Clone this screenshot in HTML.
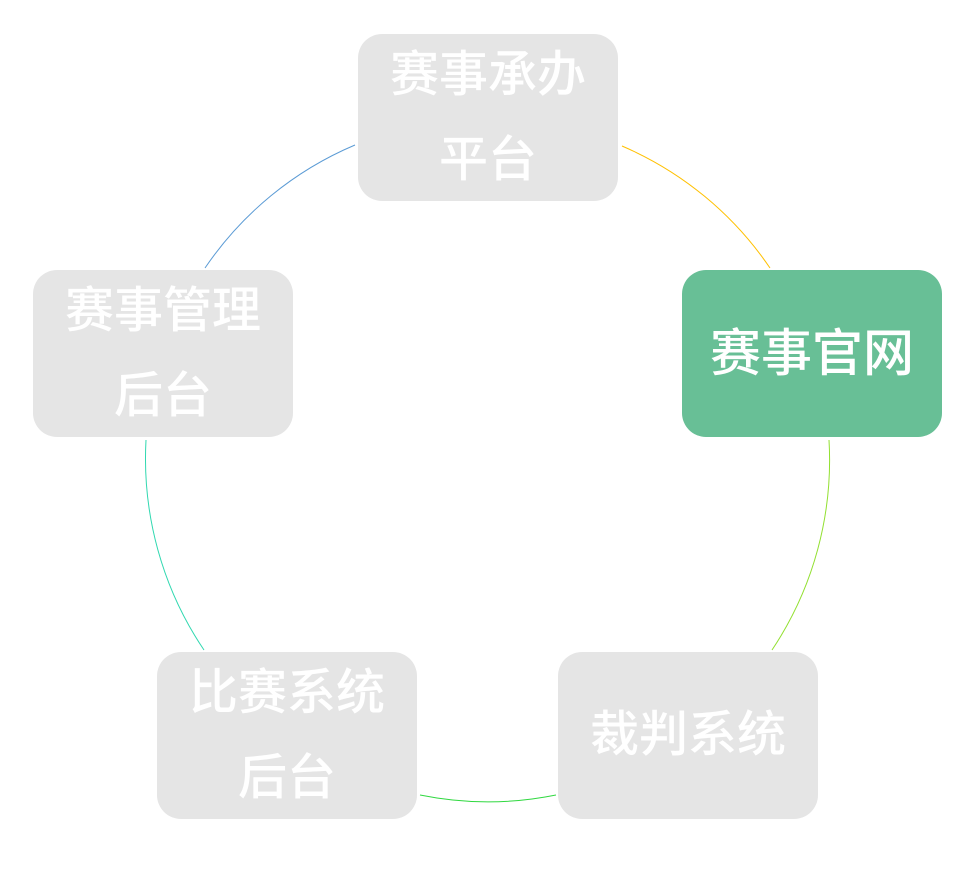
<!DOCTYPE html>
<html><head><meta charset="utf-8"><style>
body{margin:0;width:976px;height:873px;background:#fff;position:relative;overflow:hidden;font-family:"Liberation Sans","Noto Sans CJK SC",sans-serif}
.b{position:absolute;width:260px;height:167px;border-radius:24px;background:#e5e5e5;color:#fff;font-weight:500;font-size:49px;display:flex;align-items:center;justify-content:center;text-align:center;line-height:85px}
svg{position:absolute;left:0;top:0}
</style></head><body>
<svg width="976" height="873" fill="none" stroke-width="1">
<path d="M205 268 A342 342 0 0 1 355 145" stroke="#5b9bd5"/>
<path d="M622 146 A342 342 0 0 1 770 268" stroke="#ffc000"/>
<path d="M829 440 A342 342 0 0 1 772 650" stroke="#92e030"/>
<path d="M556 795 A342 342 0 0 1 420 795" stroke="#30d840"/>
<path d="M204 650 A342 342 0 0 1 146 440" stroke="#30d8b0"/>
</svg>
<div class="b" style="left:358px;top:34px">赛事承办<br>平台</div>
<div class="b" style="left:682px;top:270px;background:#68bf96;font-size:51px">赛事官网</div>
<div class="b" style="left:33px;top:270px">赛事管理<br>后台</div>
<div class="b" style="left:157px;top:652px">比赛系统<br>后台</div>
<div class="b" style="left:558px;top:652px">裁判系统</div>
</body></html>
